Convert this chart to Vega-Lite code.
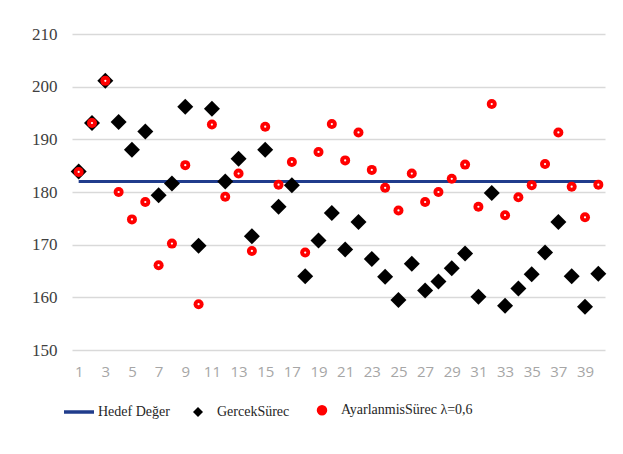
{
  "$schema": "https://vega.github.io/schema/vega-lite/v6.json",
  "width": 533,
  "height": 316,
  "padding": {"left": 31, "top": 25, "right": 18, "bottom": 5},
  "background": "white",
  "config": {
    "view": {"stroke": null},
    "legend": {"labelFont": "Liberation Serif, Times New Roman, serif", "labelFontSize": 14, "labelColor": "#262626"}
  },
  "data": {"values": [
    {"t": 1, "hedef": 182, "gercek": 183.9, "ayar": 183.8},
    {"t": 2, "hedef": 182, "gercek": 193.1, "ayar": 193.1},
    {"t": 3, "hedef": 182, "gercek": 201.1, "ayar": 201.1},
    {"t": 4, "hedef": 182, "gercek": 193.3, "ayar": 180.0},
    {"t": 5, "hedef": 182, "gercek": 188.0, "ayar": 174.8},
    {"t": 6, "hedef": 182, "gercek": 191.5, "ayar": 178.1},
    {"t": 7, "hedef": 182, "gercek": 179.4, "ayar": 166.1},
    {"t": 8, "hedef": 182, "gercek": 181.6, "ayar": 170.2},
    {"t": 9, "hedef": 182, "gercek": 196.2, "ayar": 185.1},
    {"t": 10, "hedef": 182, "gercek": 169.8, "ayar": 158.7},
    {"t": 11, "hedef": 182, "gercek": 195.8, "ayar": 192.8},
    {"t": 12, "hedef": 182, "gercek": 182.0, "ayar": 179.1},
    {"t": 13, "hedef": 182, "gercek": 186.3, "ayar": 183.5},
    {"t": 14, "hedef": 182, "gercek": 171.6, "ayar": 168.8},
    {"t": 15, "hedef": 182, "gercek": 188.0, "ayar": 192.4},
    {"t": 16, "hedef": 182, "gercek": 177.2, "ayar": 181.4},
    {"t": 17, "hedef": 182, "gercek": 181.3, "ayar": 185.7},
    {"t": 18, "hedef": 182, "gercek": 164.0, "ayar": 168.5},
    {"t": 19, "hedef": 182, "gercek": 170.8, "ayar": 187.6},
    {"t": 20, "hedef": 182, "gercek": 176.0, "ayar": 192.9},
    {"t": 21, "hedef": 182, "gercek": 169.1, "ayar": 186.0},
    {"t": 22, "hedef": 182, "gercek": 174.3, "ayar": 191.3},
    {"t": 23, "hedef": 182, "gercek": 167.3, "ayar": 184.2},
    {"t": 24, "hedef": 182, "gercek": 163.9, "ayar": 180.8},
    {"t": 25, "hedef": 182, "gercek": 159.5, "ayar": 176.5},
    {"t": 26, "hedef": 182, "gercek": 166.4, "ayar": 183.5},
    {"t": 27, "hedef": 182, "gercek": 161.3, "ayar": 178.1},
    {"t": 28, "hedef": 182, "gercek": 163.0, "ayar": 180.0},
    {"t": 29, "hedef": 182, "gercek": 165.5, "ayar": 182.5},
    {"t": 30, "hedef": 182, "gercek": 168.3, "ayar": 185.2},
    {"t": 31, "hedef": 182, "gercek": 160.1, "ayar": 177.2},
    {"t": 32, "hedef": 182, "gercek": 179.8, "ayar": 196.7},
    {"t": 33, "hedef": 182, "gercek": 158.4, "ayar": 175.6},
    {"t": 34, "hedef": 182, "gercek": 161.7, "ayar": 179.0},
    {"t": 35, "hedef": 182, "gercek": 164.4, "ayar": 181.3},
    {"t": 36, "hedef": 182, "gercek": 168.5, "ayar": 185.3},
    {"t": 37, "hedef": 182, "gercek": 174.3, "ayar": 191.3},
    {"t": 38, "hedef": 182, "gercek": 164.0, "ayar": 181.0},
    {"t": 39, "hedef": 182, "gercek": 158.2, "ayar": 175.2},
    {"t": 40, "hedef": 182, "gercek": 164.5, "ayar": 181.4}
  ]},
  "transform": [{"fold": ["hedef", "gercek", "ayar"], "as": ["series", "v"]}],
  "encoding": {
    "x": {
      "field": "t", "type": "ordinal",
      "scale": {"padding": 0.5},
      "axis": {
        "title": null, "grid": false, "domain": false, "ticks": false, "labelAngle": 0,
        "values": [1,3,5,7,9,11,13,15,17,19,21,23,25,27,29,31,33,35,37,39],
        "labelFont": "Open Sans", "labelFontSize": 15, "labelColor": "#a6a6a6", "labelPadding": 14
      }
    },
    "y": {
      "field": "v", "type": "quantitative",
      "scale": {"domain": [150, 210], "nice": false, "zero": false},
      "axis": {
        "title": null, "domain": false, "ticks": false, "grid": true,
        "gridColor": "#d9d9d9", "gridWidth": 1.5,
        "values": [150,160,170,180,190,200,210],
        "labelFont": "Liberation Serif, Times New Roman, serif", "labelFontSize": 17, "labelColor": "#404040",
        "labelPadding": 15, "minExtent": 41, "maxExtent": 41
      }
    },
    "color": {
      "field": "series", "type": "nominal",
      "scale": {"domain": ["hedef", "gercek", "ayar"], "range": ["#203c8c", "#000000", "#ff0000"]},
      "legend": {
        "title": null, "orient": "bottom", "direction": "horizontal", "offset": 24,
        "labelFont": "Liberation Serif, Times New Roman, serif", "labelFontSize": 14, "labelColor": "#262626",
        "symbolSize": 900, "columnPadding": 21, "labelOffset": 12,
        "labelExpr": "datum.value == 'hedef' ? 'Hedef Değer' : datum.value == 'gercek' ? 'GercekSürec' : 'AyarlanmisSürec  λ=0,6'",
        "encode": {"symbols": {"update": {
          "size": {"signal": "datum.value == 'hedef' ? 900 : datum.value == 'gercek' ? 100 : 49"},
          "stroke": {"signal": "datum.value == 'hedef' ? '#203c8c' : datum.value == 'ayar' ? '#ff0000' : 'transparent'"},
          "fill": {"signal": "datum.value == 'gercek' ? '#000000' : datum.value == 'ayar' ? '#ffffff' : 'transparent'"},
          "strokeWidth": {"signal": "datum.value == 'gercek' ? 0 : 3.5"},
          "opacity": {"value": 1}
        }}}
      }
    },
    "shape": {
      "field": "series", "type": "nominal",
      "scale": {"domain": ["hedef", "gercek", "ayar"], "range": ["stroke", "diamond", "circle"]},
      "legend": {
        "title": null, "orient": "bottom", "direction": "horizontal", "offset": 24,
        "labelFont": "Liberation Serif, Times New Roman, serif", "labelFontSize": 14, "labelColor": "#262626",
        "symbolSize": 900, "columnPadding": 21, "labelOffset": 12,
        "labelExpr": "datum.value == 'hedef' ? 'Hedef Değer' : datum.value == 'gercek' ? 'GercekSürec' : 'AyarlanmisSürec  λ=0,6'",
        "encode": {"symbols": {"update": {
          "size": {"signal": "datum.value == 'hedef' ? 900 : datum.value == 'gercek' ? 100 : 49"},
          "stroke": {"signal": "datum.value == 'hedef' ? '#203c8c' : datum.value == 'ayar' ? '#ff0000' : 'transparent'"},
          "fill": {"signal": "datum.value == 'gercek' ? '#000000' : datum.value == 'ayar' ? '#ffffff' : 'transparent'"},
          "strokeWidth": {"signal": "datum.value == 'gercek' ? 0 : 3.5"},
          "opacity": {"value": 1}
        }}}
      }
    }
  },
  "layer": [
    {
      "transform": [{"filter": "datum.series == 'hedef'"}],
      "mark": {"type": "line", "strokeWidth": 3}
    },
    {
      "transform": [{"filter": "datum.series == 'gercek'"}],
      "mark": {"type": "point", "filled": true, "size": 256, "opacity": 1}
    },
    {
      "transform": [{"filter": "datum.series == 'ayar'"}],
      "mark": {"type": "point", "filled": true, "size": 100, "opacity": 1}
    },
    {
      "transform": [{"filter": "datum.series == 'ayar'"}],
      "mark": {"type": "point", "filled": true, "size": 5, "opacity": 1, "color": "#ffffff"},
      "encoding": {"color": {"value": "#ffffff"}}
    }
  ]
}
